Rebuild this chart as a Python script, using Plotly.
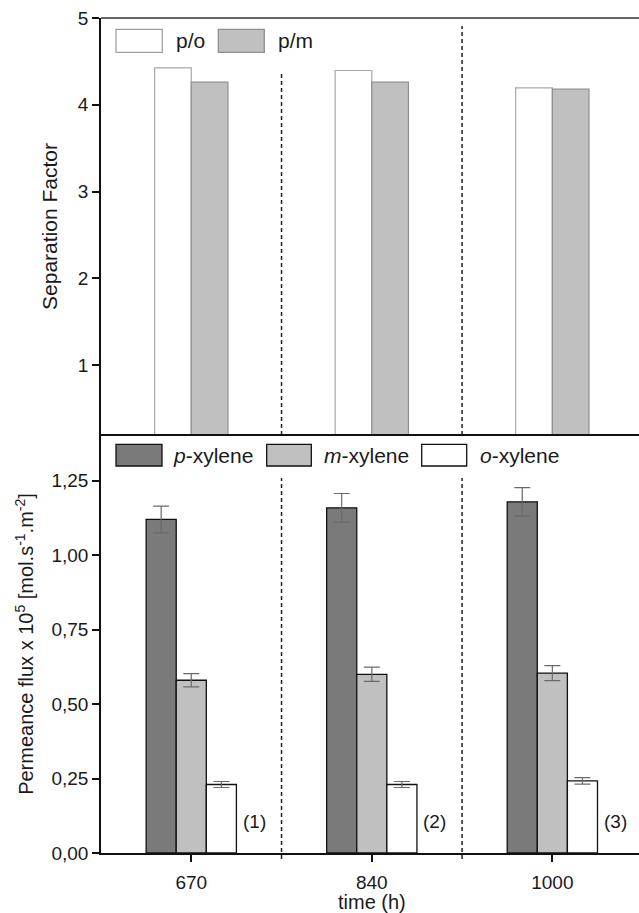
import plotly.graph_objects as go

# ---------------- data ----------------
times = ["670", "840", "1000"]
sf_po = [4.425, 4.395, 4.195]
sf_pm = [4.26, 4.26, 4.18]

flux_p = [1.120, 1.159, 1.179]
flux_p_err = [0.045, 0.048, 0.048]
flux_m = [0.580, 0.600, 0.604]
flux_m_err = [0.022, 0.024, 0.025]
flux_o = [0.230, 0.230, 0.242]
flux_o_err = [0.010, 0.010, 0.011]

run_labels = ["(1)", "(2)", "(3)"]
bottom_ticks = [0.0, 0.25, 0.5, 0.75, 1.0, 1.25]
bottom_ticktext = ["0,00", "0,25", "0,50", "0,75", "1,00", "1,25"]
top_ticks = [1, 2, 3, 4, 5]

# ---------------- geometry helpers ----------------
W, H = 639, 913
ML, MR, MT, MB = 101, 0, 18, 60
PW, PH = W - ML - MR, H - MT - MB


def px(x):
    return (x - ML) / PW


def py(y):
    return (H - MB - y) / PH


split = py(435)
xpos = list(range(len(times)))
FONT = "Liberation Sans, Arial, sans-serif"
TXT = "#1a1a1a"

fig = go.Figure()

# top panel: separation factors
w2 = 0.203
fig.add_trace(go.Bar(x=xpos, y=sf_po, width=w2, offset=-w2, xaxis="x2", yaxis="y2",
                     marker=dict(color="white", line=dict(color="#a8a8a8", width=1.2)),
                     showlegend=False, name="p/o"))
fig.add_trace(go.Bar(x=xpos, y=sf_pm, width=w2, offset=0, xaxis="x2", yaxis="y2",
                     marker=dict(color="#c0c0c0", line=dict(color="#8f8f8f", width=1.2)),
                     showlegend=False, name="p/m"))

# bottom panel: fluxes
w3 = 0.1667
err_style = dict(type="data", color="#6a6a6a", thickness=1.2, width=8)
fig.add_trace(go.Bar(x=xpos, y=flux_p, width=w3, offset=-1.5 * w3,
                     error_y=dict(array=flux_p_err, **err_style),
                     marker=dict(color="#7a7a7a", line=dict(color="#111", width=1.3)),
                     showlegend=False, name="p-xylene"))
fig.add_trace(go.Bar(x=xpos, y=flux_m, width=w3, offset=-0.5 * w3,
                     error_y=dict(array=flux_m_err, **err_style),
                     marker=dict(color="#c0c0c0", line=dict(color="#111", width=1.3)),
                     showlegend=False, name="m-xylene"))
fig.add_trace(go.Bar(x=xpos, y=flux_o, width=w3, offset=0.5 * w3,
                     error_y=dict(array=flux_o_err, **err_style),
                     marker=dict(color="white", line=dict(color="#111", width=1.3)),
                     showlegend=False, name="o-xylene"))

xr = [-0.5, 2.48]
shapes = []
annotations = []

# run labels
for i, lab in enumerate(run_labels):
    annotations.append(dict(x=xpos[i] + 0.35, y=0.105, xref="x", yref="y", text=lab,
                            showarrow=False, font=dict(size=19, color=TXT, family=FONT)))

# x-axis title
annotations.append(dict(x=px(372), y=py(902), xref="paper", yref="paper", text="time (h)",
                        xanchor="center", yanchor="middle", showarrow=False,
                        font=dict(size=20, color=TXT, family=FONT)))

# dashed separators
for xd, ytop in [(0.5, 71), (1.5, 26)]:
    shapes.append(dict(type="line", xref="x", yref="paper", x0=xd, x1=xd,
                       y0=py(435), y1=py(ytop), line=dict(color="#222", width=1.5, dash="4px,3px")))
    shapes.append(dict(type="line", xref="x", yref="paper", x0=xd, x1=xd,
                       y0=py(859), y1=py(478), line=dict(color="#222", width=1.5, dash="4px,3px")))

# frame lines
shapes.append(dict(type="line", xref="paper", yref="paper", x0=0, x1=1, y0=1, y1=1,
                   line=dict(color="#333", width=1.6)))
shapes.append(dict(type="line", xref="paper", yref="paper", x0=0, x1=1, y0=split, y1=split,
                   line=dict(color="#111", width=2)))

# custom legends
def legend_box(x0, y0, x1, y1, fill, edge, label, lx):
    shapes.append(dict(type="rect", xref="paper", yref="paper", x0=px(x0), x1=px(x1),
                       y0=py(y1), y1=py(y0), fillcolor=fill, line=dict(color=edge, width=1.3)))
    annotations.append(dict(x=px(lx), y=py((y0 + y1) / 2), xref="paper", yref="paper",
                            xanchor="left", yanchor="middle", text=label, showarrow=False,
                            font=dict(size=21, color=TXT, family=FONT)))

legend_box(116, 29.3, 162.3, 52.3, "white", "#a0a0a0", "p/o", 174)
legend_box(218.3, 29.3, 264.3, 52.3, "#c0c0c0", "#8f8f8f", "p/m", 276)
legend_box(116, 444.3, 162, 466, "#7a7a7a", "#111", "<i>p</i>-xylene", 171)
legend_box(266.7, 444.3, 311.3, 466, "#c0c0c0", "#111", "<i>m</i>-xylene", 322)
legend_box(421.7, 444.3, 466.7, 466, "white", "#111", "<i>o</i>-xylene", 478)

fig.update_layout(
    width=W, height=H,
    margin=dict(l=ML, r=MR, t=MT, b=MB),
    paper_bgcolor="white", plot_bgcolor="white",
    barmode="overlay",
    font=dict(family=FONT, color=TXT, size=18),
    shapes=shapes, annotations=annotations,
    xaxis=dict(domain=[0, 1], range=xr, anchor="y", tickvals=xpos, ticktext=times,
               showline=True, linecolor="#111", linewidth=1.6, ticks="outside", ticklen=7,
               tickwidth=1.5, tickcolor="#111", showgrid=False, zeroline=False,
               ticklabelstandoff=4, tickfont=dict(size=19)),
    yaxis=dict(domain=[0, split], range=[0, 1.4035], anchor="x", tickvals=bottom_ticks,
               ticktext=bottom_ticktext, showline=True, linecolor="#111", linewidth=1.6,
               ticks="outside", ticklen=7, tickwidth=1.5, tickcolor="#111", showgrid=False,
               zeroline=False, tickfont=dict(size=19),
               title=dict(text="Permeance flux x 10<sup>5</sup> [mol.s<sup>-1</sup>.m<sup>-2</sup>]",
                          font=dict(size=20), standoff=12)),
    xaxis2=dict(domain=[0, 1], range=xr, anchor="y2", showticklabels=False, ticks="",
                showline=False, showgrid=False, zeroline=False),
    yaxis2=dict(domain=[split, 1], range=[0.195, 5], anchor="x2", tickvals=top_ticks,
                showline=True, linecolor="#111", linewidth=1.6, ticks="outside", ticklen=7,
                tickwidth=1.5, tickcolor="#111", showgrid=False, zeroline=False,
                tickfont=dict(size=19),
                title=dict(text="Separation Factor", font=dict(size=21), standoff=14)),
)

fig.write_html("out.html")
